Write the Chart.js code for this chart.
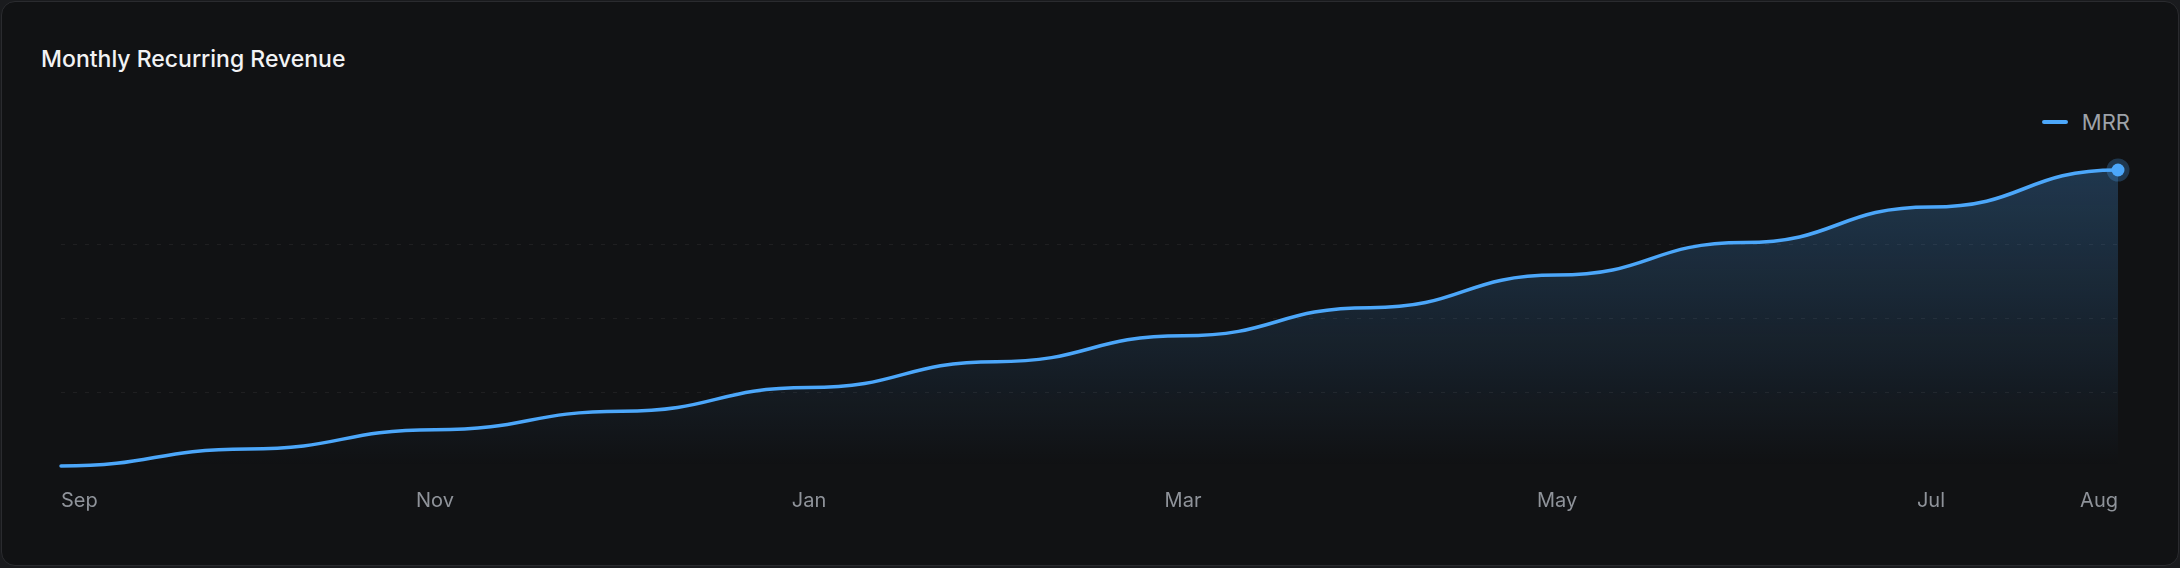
<!DOCTYPE html>
<html>
<head>
<meta charset="utf-8">
<script src="https://cdn.jsdelivr.net/npm/chart.js@4.4.1/dist/chart.umd.min.js"></script>
<style>
  html, body { margin: 0; padding: 0; width: 2180px; height: 568px; background: #1a1b1e; overflow: hidden; }
  .card {
    position: absolute; left: 1px; top: 1px; right: 1px; bottom: 2px;
    box-sizing: border-box; background: #111214; border: 1px solid #2a2b2f; border-radius: 14px;
  }
  .title {
    position: absolute; left: 41px; top: 45px; margin: 0;
    font: 500 23px Inter, sans-serif; color: #f2f3f5; white-space: nowrap;
  }
  .legend {
    position: absolute; right: 50px; top: 109px; display: flex; align-items: center;
    font: 400 22px Inter, sans-serif; color: #9ea2a9;
  }
  .legend i { display: inline-block; width: 26px; height: 4px; border-radius: 2px; margin-right: 14px; }
  .plot { position: absolute; left: 38px; top: 156px; width: 2103px; height: 384px; }
</style>
</head>
<body>
<div class="card"></div>
<div class="title">Monthly Recurring Revenue</div>
<div class="legend" id="legend"></div>
<div class="plot"><canvas id="mrrChart"></canvas></div>
<script>
const months = ['Sep', 'Oct', 'Nov', 'Dec', 'Jan', 'Feb', 'Mar', 'Apr', 'May', 'Jun', 'Jul', 'Aug'];
const mrr = [20000, 22300, 24900, 27400, 30600, 34100, 37600, 41400, 45800, 50200, 55000, 60000];
const tickLabels = ['Sep', 'Nov', 'Jan', 'Mar', 'May', 'Jul', 'Aug'];
const seriesName = 'MRR';

const lineColor = '#4ca7fa';

// legend (html, one item)
document.getElementById('legend').innerHTML =
  `<i style="background:${lineColor}"></i><span>${seriesName}</span>`;

// flat tangent at every point, s-curve in between
const bumpCurve = {
  id: 'bumpCurve',
  beforeDatasetsDraw(chart) {
    chart.getSortedVisibleDatasetMetas().forEach(meta => {
      if (meta.type !== 'line') return;
      meta.dataset.updateControlPoints(chart.chartArea, 'x');
      const pts = meta.data;
      pts.forEach((p, i) => {
        const prev = pts[i - 1], next = pts[i + 1];
        p.cp1x = prev ? (prev.x + p.x) / 2 : p.x;
        p.cp1y = p.y;
        p.cp2x = next ? (p.x + next.x) / 2 : p.x;
        p.cp2y = p.y;
      });
    });
  }
};

Chart.defaults.font.family = 'Inter';

const ctx = document.getElementById('mrrChart').getContext('2d');
const mrrChart = new Chart(ctx, {
  type: 'line',
  data: {
    labels: months,
    datasets: [{
      label: seriesName,
      data: mrr,
      borderColor: lineColor,
      borderWidth: 3.5,
      borderCapStyle: 'round',
      borderJoinStyle: 'round',
      tension: 0.4,
      fill: 'start',
      backgroundColor: function(context) {
        const area = context.chart.chartArea;
        if (!area) return 'transparent';
        const g = context.chart.ctx.createLinearGradient(0, area.top, 0, area.bottom);
        g.addColorStop(0, 'rgba(76,167,250,0.25)');
        g.addColorStop(1, 'rgba(76,167,250,0)');
        return g;
      },
      pointRadius: c => c.dataIndex === mrr.length - 1 ? 6.5 : 0,
      pointHoverRadius: c => c.dataIndex === mrr.length - 1 ? 6.5 : 0,
      pointBackgroundColor: lineColor,
      pointBorderColor: 'rgba(76,167,250,0.25)',
      pointBorderWidth: 10,
      clip: false
    }]
  },
  options: {
    responsive: true,
    maintainAspectRatio: false,
    animation: false,
    events: [],
    layout: { autoPadding: false, padding: { left: 23, right: 23, top: 14, bottom: 4 } },
    plugins: {
      legend: { display: false },
      title: { display: false },
      tooltip: { enabled: false }
    },
    scales: {
      x: {
        grid: { display: false, drawTicks: false },
        border: { display: false },
        ticks: {
          autoSkip: false,
          maxRotation: 0,
          align: 'inner',
          padding: 23,
          color: '#8f939a',
          font: { size: 20 },
          callback: function(value, index) {
            const m = months[index];
            return tickLabels.includes(m) ? m : '';
          }
        }
      },
      y: {
        min: 20000,
        max: 60000,
        ticks: { display: false, stepSize: 10000 },
        border: { display: false, dash: [4, 8] },
        grid: {
          drawTicks: false,
          lineWidth: 1,
          color: c => (c.index === 0 || c.index === c.scale.ticks.length - 1) ? 'transparent' : 'rgba(255,255,255,0.06)'
        }
      }
    }
  },
  plugins: [bumpCurve]
});
</script>
</body>
</html>
